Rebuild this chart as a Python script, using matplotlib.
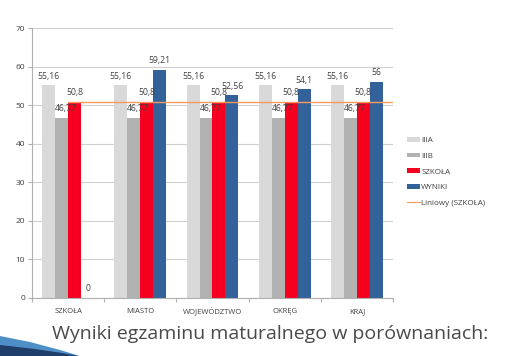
import matplotlib
matplotlib.use("Agg")
import matplotlib.pyplot as plt
import numpy as np
from matplotlib.patches import Polygon
from matplotlib.lines import Line2D
from matplotlib.patches import Patch
import matplotlib.transforms as mtransforms

categories = ["SZKOŁA", "MIASTO", "WOJEWÓDZTWO", "OKRĘG", "KRAJ"]
series_names = ["IIIA", "IIIB", "SZKOŁA", "WYNIKI"]
iiia = [55.16, 55.16, 55.16, 55.16, 55.16]
iiib = [46.77, 46.77, 46.77, 46.77, 46.77]
szkola = [50.8, 50.8, 50.8, 50.8, 50.8]
wyniki = [0, 59.21, 52.56, 54.1, 56]
trend_label = "Liniowy (SZKOŁA)"
yticks = [0, 10, 20, 30, 40, 50, 60, 70]
title = "Wyniki egzaminu maturalnego w porównaniach:"

colors = ["#d9d9d9", "#b2b2b2", "#f5001e", "#336199"]
trend_color = "#f79a5e"
text_color = "#404040"
font = ["Open Sans", "DejaVu Sans"]

fig = plt.figure(figsize=(5.05, 3.56), dpi=100)
ax = fig.add_axes([32/505, 1-298/356, (393-32)/505, (298-28)/356])

x = np.arange(len(categories))
w = 0.18
all_series = [iiia, iiib, szkola, wyniki]
for i, (vals, c) in enumerate(zip(all_series, colors)):
    pos = x + (i - 1.5) * w
    ax.bar(pos, vals, width=w, color=c, zorder=2)
for i, vals in enumerate(all_series):
    pos = x + (i - 1.5) * w
    for p, v in zip(pos, vals):
        lbl = ("%g" % v).replace(".", ",")
        dx = 0.06 if i == 1 else 0.0
        ax.text(p + dx, v + 1.2, lbl, ha="center", va="bottom", fontsize=6.2,
                color=text_color, family=font, zorder=4)

ax.plot([x[0], 4.5], [szkola[0], szkola[0]], color=trend_color, lw=1.0, zorder=3)

ax.set_xlim(-0.5, 4.5)
ax.set_ylim(0, 70)
ax.set_yticks(yticks)
ax.set_yticklabels([str(t) for t in yticks], fontsize=6, color=text_color, family=font)
ax.yaxis.grid(True, color="#d0d0d0", lw=0.8, zorder=0)
ax.set_axisbelow(True)
ax.set_xticks(np.arange(-0.5, 5, 1))
ax.set_xticklabels([])
ax.tick_params(axis="x", length=3, color="#b0b0b0")
ax.tick_params(axis="y", length=3, color="#b0b0b0", pad=2)
trans = mtransforms.blended_transform_factory(ax.transData, fig.transFigure)
for xi, name in zip(x, categories):
    ax.text(xi, 1-313/356, name, transform=trans, ha="center", va="baseline",
            fontsize=5.5, color=text_color, family=font)
for s in ["top", "right"]:
    ax.spines[s].set_visible(False)
for s in ["left", "bottom"]:
    ax.spines[s].set_color("#b0b0b0")
    ax.spines[s].set_linewidth(0.8)

handles = [Patch(facecolor=c, edgecolor="none") for c in colors]
handles.append(Line2D([0], [0], color=trend_color, lw=0.8))
leg = fig.legend(handles, series_names + [trend_label], loc="upper left",
                 bbox_to_anchor=(400/505, 1-130/356), frameon=False,
                 prop={"family": font, "size": 5.8}, handlelength=1.6,
                 handleheight=0.5, handletextpad=0.15, labelspacing=1.05)
for t in leg.get_texts():
    t.set_color(text_color)

fig.text(270/505, 1-334/356, title, ha="center", va="center", fontsize=14,
         color="#4a4a4a", family=font)

# decorative swoosh bottom-left
fig.patches.append(Polygon([(0, 1-336/356), (30/505, 1-342/356), (60/505, 1-350/356),
                            (80/505, 0), (0, 0)], closed=True, transform=fig.transFigure,
                           facecolor="#4f8fc8", edgecolor="none"))
fig.patches.append(Polygon([(0, 1-345/356), (35/505, 1-349/356), (62/505, 1-353/356),
                            (78/505, 0), (0, 0)], closed=True, transform=fig.transFigure,
                           facecolor="#1f3f6a", edgecolor="none"))

fig.savefig("out.png", dpi=100)
